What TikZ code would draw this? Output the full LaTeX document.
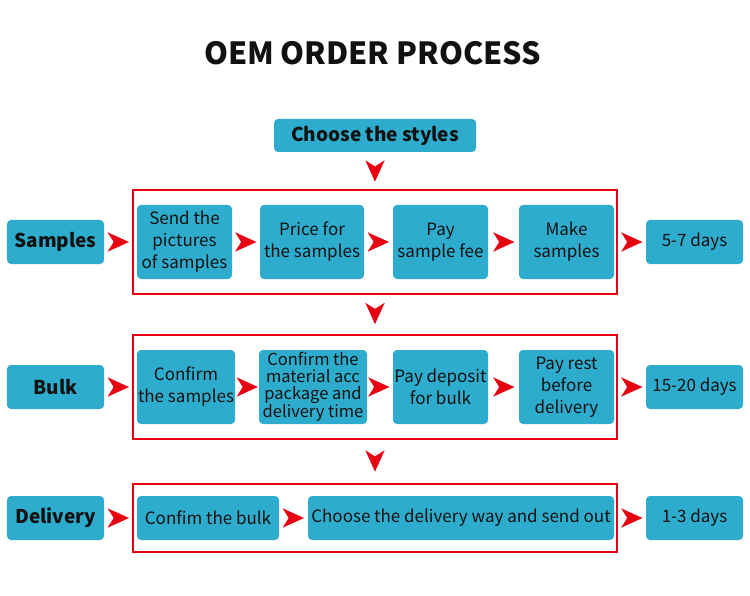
\documentclass[tikz,border=0pt]{standalone}
\usepackage{fontspec}
\setmainfont{Noto Sans CJK SC}
\usetikzlibrary{arrows.meta}
\definecolor{boxblue}{HTML}{2EACCD}
\definecolor{framered}{HTML}{E60012}
\definecolor{txt}{HTML}{111111}
\begin{document}
\begin{tikzpicture}[x=1bp,y=-1bp,
  box/.style={fill=boxblue, rounded corners=4bp, inner sep=0pt, align=center, text=txt,
     font=\fontsize{17bp}{22bp}\selectfont},
  bigbox/.style={box, minimum height=74bp},
  sidebox/.style={box, minimum width=97bp, minimum height=44bp},
  boldlbl/.style={font=\fontsize{19bp}{22bp}\selectfont\bfseries},
  frame/.style={draw=framered, line width=2bp, inner sep=0pt},
  arr/.style={draw=framered, line width=0.01pt, -{Stealth[length=21bp, width=19bp, inset=6bp, fill=framered]}}
]
\useasboundingbox[fill=white] (0,0) rectangle (750,596);

\node[anchor=base, text=txt, font=\fontsize{30.5bp}{34bp}\selectfont\bfseries] (title) at (372.5,65) {OEM ORDER PROCESS};

\node[box, boldlbl, minimum width=202bp, minimum height=33bp] (C) at (375,135.5) {Choose the styles};

% frames
\node[frame, minimum width=484bp, minimum height=104bp] (f1) at (375,242) {};
\node[frame, minimum width=484bp, minimum height=104bp] (f2) at (375,387) {};
\node[frame, minimum width=484bp, minimum height=68bp] (f3) at (375,518) {};

% row 1
\node[sidebox, boldlbl] (S) at (55.5,242) {Samples};
\node[bigbox, minimum width=95bp] (s1) at (184.5,242) {Send the\\pictures\\of samples};
\node[bigbox, minimum width=104bp] (s2) at (312,242) {Price for\\the samples};
\node[bigbox, minimum width=95bp] (s3) at (440.5,242) {Pay\\sample fee};
\node[bigbox, minimum width=95bp] (s4) at (566.5,242) {Make\\samples};
\node[sidebox] (t1) at (694.5,242) {5-7 days};

% row 2
\node[sidebox, boldlbl] (B) at (55.5,387) {Bulk};
\node[bigbox, minimum width=98bp] (b1) at (186,387) {Confirm\\the samples};
\node[bigbox, minimum width=108bp, font=\fontsize{16.5bp}{17bp}\selectfont] (b2) at (313,387) {Confirm the\\material acc\\package and\\delivery time};
\node[bigbox, minimum width=95bp] (b3) at (440.5,387) {Pay deposit\\for bulk};
\node[bigbox, minimum width=95bp] (b4) at (566.5,387) {Pay rest\\before\\delivery};
\node[sidebox] (t2) at (694.5,387) {15-20 days};

% row 3
\node[sidebox, boldlbl] (D) at (55.5,518) {Delivery};
\node[box, minimum width=142bp, minimum height=44bp] (d1) at (208,518) {Confim the bulk};
\node[box, minimum width=306bp, minimum height=44bp] (d2) at (461,518) {Choose the delivery way and send out};
\node[sidebox] (t3) at (694.5,518) {1-3 days};

% down arrows
\draw[arr, shorten <=9.5bp, shorten >=7.5bp] (C) -- (f1);
\draw[arr, shorten <=10bp, shorten >=10bp] (f1) -- (f2);
\draw[arr, shorten <=12.5bp, shorten >=11.5bp] (f2) -- (f3);

% row 1 arrows
\draw[arr, shorten <=4bp, shorten >=8bp] (S) -- (s1);
\draw[arr, shorten <=3.5bp, shorten >=3.5bp] (s1) -- (s2);
\draw[arr, shorten <=4bp, shorten >=4bp] (s2) -- (s3);
\draw[arr, shorten <=5.5bp, shorten >=4.5bp] (s3) -- (s4);
\draw[arr, shorten <=7.5bp, shorten >=3.5bp] (s4) -- (t1);

% row 2 arrows
\draw[arr, shorten <=4bp, shorten >=8bp] (B) -- (b1);
\draw[arr, shorten <=2bp, shorten >=1bp] (b1) -- (b2);
\draw[arr, shorten <=1.5bp, shorten >=3.5bp] (b2) -- (b3);
\draw[arr, shorten <=5.5bp, shorten >=4.5bp] (b3) -- (b4);
\draw[arr, shorten <=7.5bp, shorten >=3.5bp] (b4) -- (t2);

% row 3 arrows
\draw[arr, shorten <=4bp, shorten >=8bp] (D) -- (d1);
\draw[arr, shorten <=4bp, shorten >=4bp] (d1) -- (d2);
\draw[arr, shorten <=7.5bp, shorten >=3.5bp] (d2) -- (t3);
\end{tikzpicture}
\end{document}
